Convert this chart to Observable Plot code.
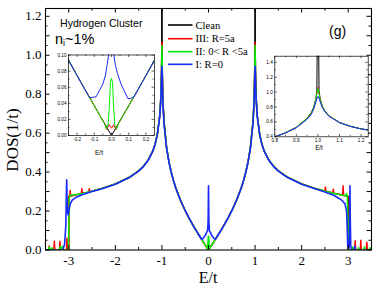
<!DOCTYPE html>
<html><head><meta charset="utf-8">
<script src="https://cdn.jsdelivr.net/npm/d3@7"></script>
<script src="https://cdn.jsdelivr.net/npm/@observablehq/plot@0.6"></script>
<style>
html,body{margin:0;padding:0;background:#fff;}
#wrap{position:relative;width:382px;height:286px;overflow:hidden;}
#wrap svg{position:absolute;overflow:visible;}
</style></head><body><div id="wrap"></div>
<script>
// ---- data: [E/t, DOS(1/t)] ----
const clean = [[-3.5,0],[-3.001,0],[-3.0,0.2757],[-2.95,0.278],[-2.9,0.2804],[-2.7,0.2906],[-2.5,0.3021],[-2.3,0.3153],[-2.0,0.3396],[-1.7,0.3734],[-1.5,0.4066],[-1.4,0.4295],[-1.3,0.4602],[-1.2,0.5064],[-1.15,0.5409],[-1.1,0.5918],[-1.05,0.6843],[-1.03,0.7559],[-1.02,0.8143],[-1.01,0.9155],[-1.005,1.019],[-1.0,3.0],[-0.995,1.013],[-0.99,0.906],[-0.98,0.796],[-0.97,0.7313],[-0.95,0.6486],[-0.9,0.5279],[-0.85,0.4541],[-0.8,0.3992],[-0.75,0.3548],[-0.7,0.317],[-0.6,0.2541],[-0.5,0.2016],[-0.4,0.1557],[-0.3,0.1138],[-0.25,0.0939],[-0.2,0.0745],[-0.15,0.0556],[-0.1,0.0369],[-0.05,0.0184],
 [0,0],[0.05,0.0184],[0.1,0.0369],[0.15,0.0556],[0.2,0.0745],[0.25,0.0939],[0.3,0.1138],[0.4,0.1557],[0.5,0.2016],[0.6,0.2541],[0.7,0.317],[0.75,0.3548],[0.8,0.3992],[0.85,0.4541],[0.9,0.5279],[0.95,0.6486],[0.97,0.7313],[0.98,0.796],[0.99,0.906],[0.995,1.013],[1.0,3.0],[1.005,1.019],[1.01,0.9155],[1.02,0.8143],[1.03,0.7559],[1.05,0.6843],[1.1,0.5918],[1.15,0.5409],[1.2,0.5064],[1.3,0.4602],[1.4,0.4295],[1.5,0.4066],[1.7,0.3734],[2.0,0.3396],[2.3,0.3153],[2.5,0.3021],[2.7,0.2906],[2.9,0.2804],[2.95,0.278],[3.0,0.2757],[3.001,0],[3.5,0]];

const regionIII = [[-3.5,0],[-3.43,0],[-3.42,0.02],[-3.41,0],[-3.32,0],[-3.31,0.045],[-3.3,0],[-3.2,0],[-3.19,0.045],[-3.18,0],[-3.05,0],[-3.04,0.06],[-3.03,0],[-3.002,0],[-3.0,0.276],[-2.98,0.277],[-2.97,0.305],[-2.96,0.279],[-2.9,0.2804],[-2.73,0.289],[-2.72,0.315],[-2.71,0.29],[-2.57,0.297],[-2.56,0.315],[-2.55,0.298],[-2.5,0.3021],[-2.3,0.3153],[-2.0,0.3396],[-1.7,0.3734],[-1.5,0.4066],[-1.4,0.4295],[-1.3,0.4602],[-1.2,0.5064],[-1.15,0.5409],[-1.1,0.5918],[-1.05,0.683],[-1.03,0.753],[-1.02,0.81],[-1.01,0.905],[-1.005,0.99],[-1.0,1.065],[-0.995,0.985],[-0.99,0.895],[-0.98,0.785],[-0.97,0.725],[-0.95,0.645],[-0.9,0.527],[-0.85,0.454],[-0.8,0.3992],[-0.75,0.3548],[-0.7,0.317],[-0.6,0.2541],[-0.5,0.2016],[-0.4,0.1557],[-0.3,0.1138],[-0.25,0.0939],[-0.2,0.0745],[-0.15,0.0556],[-0.1,0.0369],[-0.05,0.0184],[-0.04,0.0147],[-0.028,0.0075],[-0.014,0.0135],
 [0,0.009],[0.013,0.0135],[0.026,0.0075],[0.04,0.0147],[0.05,0.0184],[0.1,0.0369],[0.15,0.0556],[0.2,0.0745],[0.25,0.0939],[0.3,0.1138],[0.4,0.1557],[0.5,0.2016],[0.6,0.2541],[0.7,0.317],[0.75,0.3548],[0.8,0.3992],[0.85,0.454],[0.9,0.527],[0.95,0.645],[0.97,0.725],[0.98,0.785],[0.99,0.895],[0.995,0.985],[1.0,1.065],[1.005,0.99],[1.01,0.905],[1.02,0.81],[1.03,0.753],[1.05,0.683],[1.1,0.5918],[1.15,0.5409],[1.2,0.5064],[1.3,0.4602],[1.4,0.4295],[1.5,0.4066],[1.7,0.3734],[2.0,0.3396],[2.3,0.3153],[2.5,0.3021],[2.51,0.322],[2.52,0.302],[2.67,0.293],[2.68,0.312],[2.69,0.292],[2.88,0.282],[2.89,0.33],[2.9,0.281],[2.95,0.278],[2.99,0.276],[2.995,0.03],[3.0,0],[3.14,0],[3.15,0.048],[3.16,0],[3.26,0],[3.27,0.05],[3.28,0],[3.39,0],[3.4,0.04],[3.41,0],[3.5,0]];

const regionII = [[-3.5,0],[-3.44,0],[-3.42,0.015],[-3.4,0],[-3.38,0],[-3.36,0.012],[-3.34,0],[-3.2,0],[-3.18,0.018],[-3.16,0.004],[-3.13,0.02],[-3.11,0],[-3.01,0],[-3.0,0.12],[-2.99,0.27],[-2.97,0.283],[-2.9,0.282],[-2.7,0.2906],[-2.5,0.3021],[-2.3,0.3153],[-2.0,0.3396],[-1.7,0.3734],[-1.5,0.4066],[-1.4,0.4295],[-1.3,0.4602],[-1.2,0.5064],[-1.15,0.5409],[-1.1,0.5918],[-1.05,0.683],[-1.03,0.753],[-1.02,0.81],[-1.01,0.9],[-1.005,0.98],[-1.0,1.05],[-0.995,0.975],[-0.99,0.895],[-0.98,0.787],[-0.97,0.725],[-0.95,0.645],[-0.9,0.527],[-0.85,0.454],[-0.8,0.3992],[-0.75,0.3548],[-0.7,0.317],[-0.6,0.2541],[-0.5,0.2016],[-0.4,0.1557],[-0.3,0.1138],[-0.25,0.0939],[-0.2,0.0745],[-0.15,0.0556],[-0.1,0.0369],[-0.05,0.0184],[-0.04,0.0147],[-0.03,0.008],[-0.02,0.013],[-0.012,0.038],[-0.006,0.066],
 [0,0.071],[0.006,0.066],[0.012,0.036],[0.02,0.012],[0.03,0.008],[0.04,0.0147],[0.05,0.0184],[0.1,0.0369],[0.15,0.0556],[0.2,0.0745],[0.25,0.0939],[0.3,0.1138],[0.4,0.1557],[0.5,0.2016],[0.6,0.2541],[0.7,0.317],[0.75,0.3548],[0.8,0.3992],[0.85,0.454],[0.9,0.527],[0.95,0.645],[0.97,0.725],[0.98,0.787],[0.99,0.895],[0.995,0.975],[1.0,1.05],[1.005,0.98],[1.01,0.9],[1.02,0.81],[1.03,0.753],[1.05,0.683],[1.1,0.5918],[1.15,0.5409],[1.2,0.5064],[1.3,0.4602],[1.4,0.4295],[1.5,0.4066],[1.7,0.3734],[2.0,0.3396],[2.3,0.3153],[2.5,0.3021],[2.7,0.2906],[2.9,0.2804],[2.95,0.278],[2.965,0.29],[2.98,0.275],[2.995,0.15],[3.005,0],[3.08,0],[3.1,0.015],[3.12,0],[3.2,0],[3.22,0.012],[3.24,0],[3.33,0],[3.35,0.015],[3.37,0],[3.45,0],[3.47,0.012],[3.49,0],[3.5,0]];

const regionI = [[-3.5,0],[-3.13,0],[-3.09,0.03],[-3.065,0.12],[-3.052,0.28],[-3.045,0.36],[-3.038,0.28],[-3.03,0.2],[-3.015,0.18],[-3.0,0.2],[-2.97,0.235],[-2.93,0.255],[-2.85,0.27],[-2.7,0.285],[-2.5,0.3],[-2.3,0.313],[-2.0,0.338],[-1.7,0.372],[-1.5,0.405],[-1.4,0.428],[-1.3,0.459],[-1.2,0.505],[-1.15,0.539],[-1.1,0.59],[-1.05,0.678],[-1.03,0.745],[-1.02,0.792],[-1.01,0.872],[-1.005,0.915],[-1.0,0.943],[-0.995,0.91],[-0.99,0.86],[-0.98,0.77],[-0.97,0.705],[-0.95,0.635],[-0.9,0.522],[-0.85,0.452],[-0.8,0.398],[-0.75,0.354],[-0.7,0.316],[-0.6,0.2541],[-0.5,0.2016],[-0.4,0.1557],[-0.3,0.1138],[-0.25,0.0939],[-0.2,0.0745],[-0.15,0.0556],[-0.12,0.058],[-0.1,0.066],[-0.07,0.074],[-0.045,0.088],[-0.02,0.1],[-0.008,0.15],
 [0,0.33],[0.008,0.15],[0.02,0.1],[0.045,0.088],[0.07,0.074],[0.1,0.066],[0.12,0.058],[0.15,0.0556],[0.2,0.0745],[0.25,0.0939],[0.3,0.1138],[0.4,0.1557],[0.5,0.2016],[0.6,0.2541],[0.7,0.316],[0.75,0.354],[0.8,0.398],[0.85,0.452],[0.9,0.522],[0.95,0.635],[0.97,0.705],[0.98,0.77],[0.99,0.86],[0.995,0.91],[1.0,0.943],[1.005,0.915],[1.01,0.872],[1.02,0.792],[1.03,0.745],[1.05,0.678],[1.1,0.59],[1.15,0.539],[1.2,0.505],[1.3,0.459],[1.4,0.428],[1.5,0.405],[1.7,0.372],[2.0,0.338],[2.3,0.313],[2.5,0.298],[2.7,0.28],[2.86,0.256],[2.93,0.237],[2.965,0.2],[2.98,0.1],[2.99,0.02],[3.02,0.01],[3.03,0.12],[3.037,0.33],[3.045,0.15],[3.055,0.02],[3.08,0],[3.13,0],[3.14,0.02],[3.15,0],[3.5,0]];

const regionIInset = [[-0.3,0.1138],[-0.25,0.0935],[-0.2,0.0742],[-0.15,0.0553],[-0.128,0.047],[-0.11,0.0475],[-0.09,0.048],[-0.07,0.056],[-0.05,0.064],[-0.035,0.075],[-0.025,0.088],[-0.017,0.1],[-0.01,0.15],[0,0.33],[0.01,0.15],[0.014,0.1],[0.022,0.088],[0.035,0.077],[0.055,0.064],[0.075,0.055],[0.095,0.046],[0.11,0.046],[0.13,0.048],[0.15,0.0553],[0.2,0.0742],[0.25,0.0935],[0.3,0.1138]];

const seriesNames = ["Clean", "III: R=5a", "II: 0< R <5a", "I: R=0"];
const seriesColors = ["#000000", "#ff0000", "#00ee00", "#1a2aff"];

const mainXLabels = [-3, -2, -1, 0, 1, 2, 3];
const mainXMinor = [-3.5, -2.5, -1.5, -0.5, 0.5, 1.5, 2.5, 3.5];
const mainYLabels = [0, 0.2, 0.4, 0.6, 0.8, 1.0, 1.2];
const mainYMajor = d3.range(0, 1.2001, 0.1);
const mainYMinor = d3.range(0.05, 1.24, 0.1);

const lowXLabels = [-0.2, -0.1, 0, 0.1, 0.2];
const lowXMinor = [-0.25, -0.15, -0.05, 0.05, 0.15, 0.25];
const lowYLabels = [0, 0.02, 0.04, 0.06, 0.08, 0.10];
const lowYMinor = [0.01, 0.03, 0.05, 0.07, 0.09];

const vhXLabels = [0.8, 0.9, 1.0, 1.1, 1.2];
const vhXMinor = [0.85, 0.95, 1.05, 1.15];
const vhYLabels = [0.4, 0.6, 0.8, 1.0, 1.2, 1.4];
const vhYMinor = [0.5, 0.7, 0.9, 1.1, 1.3];

// ---- helpers ----
const serif = "'Liberation Serif','Times New Roman',serif";
const sans = "'Liberation Sans',Arial,sans-serif";
const pts = a => a.map(([E, D]) => ({E, D}));
const fmt = n => d => (d < 0 ? "-" : "") + Math.abs(d).toFixed(n);
function curve(data, color, sw) {
  return Plot.line(pts(data), {x: "E", y: "D", stroke: color, strokeWidth: sw, clip: true, strokeLinejoin: "round"});
}
function frameTicks(xs, ys, len, fw, fh, sw) {
  return [
    Plot.tickX(xs, {x: d => d, insetTop: fh - len, strokeWidth: sw}),
    Plot.tickX(xs, {x: d => d, insetBottom: fh - len, strokeWidth: sw}),
    Plot.tickY(ys, {y: d => d, insetRight: fw - len, strokeWidth: sw}),
    Plot.tickY(ys, {y: d => d, insetLeft: fw - len, strokeWidth: sw})
  ];
}
function addText(sel, x, y, txt, family, size, anchor) {
  return sel.append("text").attr("x", x).attr("y", y).attr("text-anchor", anchor || "start")
    .attr("font-family", family).attr("font-size", size).attr("fill", "black").text(txt);
}

const wrap = document.getElementById("wrap");

// ---- main chart ----
{
  const W = 382, H = 286, mL = 45, mR = 11, mT = 8, mB = 36.5;
  const fw = W - mL - mR, fh = H - mT - mB;
  const svg = Plot.plot({
    width: W, height: H, marginLeft: mL, marginRight: mR, marginTop: mT, marginBottom: mB,
    x: {domain: [-3.5, 3.5]},
    y: {domain: [0, 1.24]},
    style: {fontFamily: serif, fontSize: "13px", background: "transparent", color: "black"},
    marks: [
      Plot.axisX({ticks: mainXLabels, tickSize: 0, tickPadding: 5.5, tickFormat: fmt(0), label: null}),
      Plot.axisY({ticks: mainYLabels, tickSize: 0, tickPadding: 4, tickFormat: d => d.toFixed(1), label: null}),
      curve(clean, seriesColors[0], 1.3),
      curve(regionIII, seriesColors[1], 1.5),
      curve(regionII, seriesColors[2], 1.5),
      curve(regionI, seriesColors[3], 1.6),
      ...frameTicks(mainXLabels, mainYMajor, 4.5, fw, fh, 1),
      ...frameTicks(mainXMinor, mainYMinor, 2.5, fw, fh, 1),
      Plot.frame({stroke: "black", strokeWidth: 1.1})
    ]
  });
  svg.style.left = "0px"; svg.style.top = "0px";
  wrap.appendChild(svg);
  const s = d3.select(svg);
  s.append("text").attr("transform", "translate(17.5,140) rotate(-90)").attr("text-anchor", "middle")
    .attr("font-family", serif).attr("font-size", 17).attr("fill", "black").text("DOS(1/t)");
  addText(s, 208, 283, "E/t", serif, 16, "middle");
  addText(s, 60, 26.5, "Hydrogen Cluster", sans, 10.6);
  const ni = s.append("text").attr("x", 55).attr("y", 43.5).attr("text-anchor", "start")
    .attr("font-family", sans).attr("font-size", 14.5).attr("fill", "black");
  ni.append("tspan").text("n");
  ni.append("tspan").attr("font-size", 9).attr("dy", 2.5).text("i");
  ni.append("tspan").attr("dy", -2.5).text("~1%");
  addText(s, 329, 36.3, "(g)", sans, 14);
  const legY = [25, 38.7, 51.7, 64.3];
  seriesNames.forEach((n, i) => {
    s.append("line").attr("x1", 168).attr("x2", 192.5).attr("y1", legY[i]).attr("y2", legY[i])
      .attr("stroke", seriesColors[i]).attr("stroke-width", 1.6);
    addText(s, 195.5, legY[i] + 3.6, n, serif, 10.6);
  });
}

// ---- low-energy inset ----
{
  const W = 110, H = 108, mL = 20, mR = 4, mT = 4.5, mB = 23;
  const fw = W - mL - mR, fh = H - mT - mB;
  const svg = Plot.plot({
    width: W, height: H, marginLeft: mL, marginRight: mR, marginTop: mT, marginBottom: mB,
    x: {domain: [-0.25, 0.25]},
    y: {domain: [0, 0.1]},
    style: {fontFamily: sans, fontSize: "4.7px", background: "transparent", color: "black"},
    marks: [
      Plot.frame({fill: "white", stroke: "none"}),
      Plot.axisX({ticks: lowXLabels, tickSize: 0, tickPadding: 2.2, tickFormat: fmt(1), label: null}),
      Plot.axisY({ticks: lowYLabels, tickSize: 0, tickPadding: 2, tickFormat: d => d.toFixed(2), label: null}),
      curve(clean, seriesColors[0], 1),
      curve(regionIII, seriesColors[1], 1),
      curve(regionII, seriesColors[2], 1),
      curve(regionIInset, seriesColors[3], 1),
      ...frameTicks(lowXLabels, lowYLabels, 2.5, fw, fh, 0.6),
      ...frameTicks(lowXMinor, lowYMinor, 1.5, fw, fh, 0.6),
      Plot.frame({stroke: "black", strokeWidth: 0.7})
    ]
  });
  svg.style.left = "48px"; svg.style.top = "50px";
  wrap.appendChild(svg);
  addText(d3.select(svg), 51, 104.5, "E/t", sans, 6.5, "middle");
}

// ---- van Hove inset ----
{
  const W = 112, H = 105, mL = 16.3, mR = 2.3, mT = 5.7, mB = 18.7;
  const fw = W - mL - mR, fh = H - mT - mB;
  const svg = Plot.plot({
    width: W, height: H, marginLeft: mL, marginRight: mR, marginTop: mT, marginBottom: mB,
    x: {domain: [0.8, 1.233]},
    y: {domain: [0.4, 1.482]},
    style: {fontFamily: sans, fontSize: "4.7px", background: "transparent", color: "black"},
    marks: [
      Plot.frame({fill: "white", stroke: "none"}),
      Plot.axisX({ticks: vhXLabels, tickSize: 0, tickPadding: 1.8, tickFormat: fmt(1), label: null}),
      Plot.axisY({ticks: vhYLabels, tickSize: 0, tickPadding: 2, tickFormat: d => d.toFixed(1), label: null}),
      curve(clean, seriesColors[0], 1),
      curve(regionIII, seriesColors[1], 1),
      curve(regionII, seriesColors[2], 1),
      curve(regionI, seriesColors[3], 1),
      ...frameTicks(vhXLabels, vhYLabels, 2.5, fw, fh, 0.6),
      ...frameTicks(vhXMinor, vhYMinor, 1.5, fw, fh, 0.6),
      Plot.frame({stroke: "black", strokeWidth: 0.7})
    ]
  });
  svg.style.left = "258px"; svg.style.top = "50px";
  wrap.appendChild(svg);
  addText(d3.select(svg), 61, 100, "E/t", sans, 6.3, "middle");
}
</script>
</body></html>
